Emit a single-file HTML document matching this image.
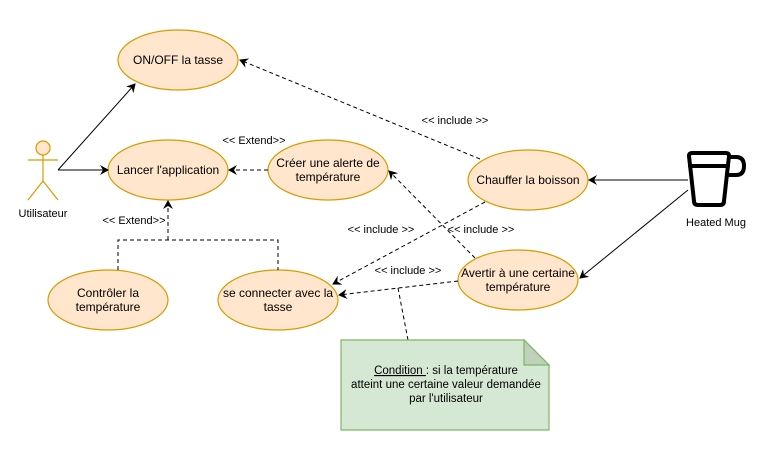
<!DOCTYPE html>
<html><head><meta charset="utf-8"><style>
html,body{margin:0;padding:0;background:#fff;}
svg{display:block;font-family:"Liberation Sans",Arial,sans-serif;}
</style></head><body>
<svg width="762" height="461" viewBox="0 0 762 461" xmlns="http://www.w3.org/2000/svg">
<defs>
<marker id="a" markerWidth="10" markerHeight="10" refX="8" refY="5" orient="auto" markerUnits="userSpaceOnUse">
<path d="M0,0 L9,5 L0,10 L3,5 Z" fill="#000"/>
</marker>
</defs>
<g fill="#ffe6cc" stroke="#d79b00" stroke-width="1.2">
<ellipse cx="178" cy="60" rx="60" ry="30"/>
<ellipse cx="168" cy="170" rx="60" ry="30"/>
<ellipse cx="328" cy="170" rx="60" ry="30"/>
<ellipse cx="108" cy="300" rx="60" ry="30"/>
<ellipse cx="278" cy="300" rx="60" ry="30"/>
<ellipse cx="528" cy="180" rx="60" ry="30"/>
<ellipse cx="518" cy="280" rx="60" ry="30"/>
</g>
<!-- actor -->
<g stroke="#d79b00" stroke-width="1.2" fill="none">
<circle cx="43" cy="148" r="7" fill="#ffe6cc"/>
<line x1="43" y1="155" x2="43" y2="181"/>
<line x1="28" y1="160" x2="58" y2="160"/>
<line x1="43" y1="181" x2="28" y2="200"/>
<line x1="43" y1="181" x2="58" y2="200"/>
</g>
<!-- mug -->
<g stroke="#000" stroke-width="4" fill="none" stroke-linejoin="round" stroke-linecap="round">
<path d="M692,153 L726,153 Q729,153 729,156 L724,201 Q724,205 720,205 L698,205 Q694,205 694,201 L689,156 Q689,153 692,153 Z"/>
<line x1="690" y1="166" x2="728" y2="166"/>
<path d="M729,157 L736,157 Q744,157 744,166 Q744,175 736,175 L728,175"/>
</g>
<!-- solid lines -->
<g stroke="#000" stroke-width="1" fill="none" marker-end="url(#a)">
<polyline points="58,170 135,84"/>
<line x1="58" y1="170" x2="108" y2="170"/>
<line x1="688" y1="180" x2="589" y2="180"/>
<line x1="688" y1="190" x2="580" y2="278"/>
</g>
<!-- dashed -->
<g stroke="#000" stroke-width="1" fill="none" stroke-dasharray="4,3">
<line x1="268" y1="170" x2="229" y2="170" marker-end="url(#a)"/>
<polyline points="118,270 118,240 278,240 278,270"/>
<line x1="168" y1="240" x2="168" y2="201" marker-end="url(#a)"/>
<line x1="480" y1="159" x2="240" y2="60" marker-end="url(#a)"/>
<line x1="485" y1="202" x2="333" y2="284" marker-end="url(#a)"/>
<line x1="475" y1="258" x2="389" y2="171" marker-end="url(#a)"/>
<line x1="458" y1="281" x2="339" y2="295" marker-end="url(#a)"/>
<line x1="398" y1="288" x2="408" y2="340"/>
</g>
<!-- note -->
<path d="M341,340 L524,340 L549,365 L549,430 L341,430 Z" fill="#d5e8d4" stroke="#82b366" stroke-width="1.2"/>
<path d="M524,340 L524,365 L549,365 Z" fill="#bfd1bd" stroke="#82b366" stroke-width="1.2"/>
<g font-size="12" fill="#000" text-anchor="middle">
<text x="178" y="64">ON/OFF la tasse</text>
<text x="168" y="174">Lancer l'application</text>
<text x="328" y="167">Créer une alerte de</text>
<text x="328" y="181">température</text>
<text x="108" y="297">Contrôler la</text>
<text x="108" y="311">température</text>
<text x="278" y="297">se connecter avec la</text>
<text x="278" y="311">tasse</text>
<text x="528" y="184">Chauffer la boisson</text>
<text x="518" y="277">Avertir à une certaine</text>
<text x="518" y="291">température</text>
<text x="43" y="217" font-size="11">Utilisateur</text>
<text x="716" y="226" font-size="11">Heated Mug</text>
</g>
<g font-size="11" fill="#000" text-anchor="middle">
<text x="254" y="144">&lt;&lt; Extend&gt;&gt;</text>
<text x="134" y="224">&lt;&lt; Extend&gt;&gt;</text>
<text x="455" y="124">&lt;&lt; include &gt;&gt;</text>
<text x="381" y="233">&lt;&lt; include &gt;&gt;</text>
<text x="481" y="233">&lt;&lt; include &gt;&gt;</text>
<text x="408" y="274">&lt;&lt; include &gt;&gt;</text>
<text x="446" y="374" font-size="11.5"><tspan text-decoration="underline">Condition </tspan>: si la température</text>
<text x="446" y="388" font-size="11.5">atteint une certaine valeur demandée</text>
<text x="446" y="402" font-size="11.5">par l'utilisateur</text>
</g>
</svg>
</body></html>
